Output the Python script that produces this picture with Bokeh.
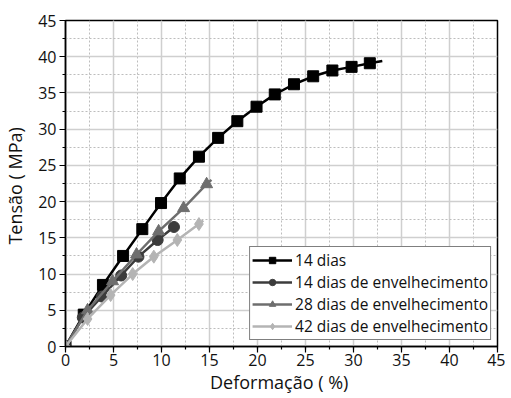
from bokeh.plotting import figure
from bokeh.models import (Range1d, SingleIntervalTicker, Legend, LegendItem)
from bokeh.embed import file_html
from bokeh.resources import INLINE

# Data (the last point of each series is the line end, without marker)
x_14 = [0, 1.9, 3.9, 6.0, 8.0, 9.95, 11.9, 13.9, 15.9, 17.9, 19.9, 21.8, 23.8, 25.8, 27.8, 29.8, 31.7, 33.0]
y_14 = [0, 4.4, 8.5, 12.5, 16.2, 19.8, 23.2, 26.2, 28.8, 31.1, 33.1, 34.8, 36.2, 37.3, 38.1, 38.6, 39.1, 39.4]

x_14e = [0, 1.8, 3.8, 5.8, 7.6, 9.6, 11.3, 11.6]
y_14e = [0, 4.0, 6.9, 9.8, 12.4, 14.7, 16.5, 16.7]

x_28e = [0, 2.3, 4.9, 7.4, 9.7, 12.3, 14.7, 15.2]
y_28e = [0, 5.0, 9.0, 12.7, 15.9, 19.1, 22.4, 23.0]

x_42e = [0, 2.3, 4.7, 7.0, 9.2, 11.65, 13.9, 14.35]
y_42e = [0, 3.8, 7.1, 10.0, 12.4, 14.7, 16.9, 17.4]

labels = ["14 dias", "14 dias de envelhecimento", "28 dias de envelhecimento", "42 dias de envelhecimento"]
colors = ["#000000", "#3c3c3c", "#6e6e6e", "#b4b4b4"]
markers = ["square", "circle", "triangle", "diamond"]
sizes = [11, 11, 12, 13]

FONT = "Open Sans"

p = figure(width=505, height=396, output_backend="svg", toolbar_location=None,
           x_range=Range1d(0, 45), y_range=Range1d(0, 45),
           min_border_left=63, min_border_right=8, min_border_top=20, min_border_bottom=44)

p.outline_line_color = "black"
p.outline_line_width = 1.5

for ax in (p.xaxis[0], p.yaxis[0]):
    ax.ticker = SingleIntervalTicker(interval=5, num_minor_ticks=2)
    ax.axis_line_color = "black"
    ax.axis_line_width = 1.5
    ax.major_tick_in = 0
    ax.major_tick_out = 6
    ax.minor_tick_in = 0
    ax.minor_tick_out = 3
    ax.major_tick_line_width = 1.2
    ax.minor_tick_line_width = 1.2
    ax.major_label_text_font = FONT
    ax.major_label_text_font_size = "16px"
    ax.major_label_text_color = "#111111"
    ax.axis_label_text_font = FONT
    ax.axis_label_text_font_size = "18px"
    ax.axis_label_text_font_style = "normal"
    ax.axis_label_text_color = "#111111"

p.xaxis.axis_label = "Deformação (  %)"
p.yaxis.axis_label = "Tensão (  MPa)"
p.xaxis.axis_label_standoff = 1
p.yaxis.axis_label_standoff = 8
p.xaxis.major_label_standoff = 1
p.yaxis.major_label_standoff = 3

for g in (p.xgrid[0], p.ygrid[0]):
    g.ticker = SingleIntervalTicker(interval=5, num_minor_ticks=2)
    g.grid_line_color = "#cfcfcf"
    g.grid_line_width = 1.5
    g.minor_grid_line_color = "#bdbdbd"
    g.minor_grid_line_width = 1
    g.minor_grid_line_dash = "2 2"

items = []
for (xs, ys), lab, col, mk, sz in zip([(x_14, y_14), (x_14e, y_14e), (x_28e, y_28e), (x_42e, y_42e)],
                                     labels, colors, markers, sizes):
    ln = p.line(xs, ys, line_color=col, line_width=2.5)
    sc = p.scatter(xs[:-1], ys[:-1], marker=mk, size=sz, fill_color=col, line_color=col)
    items.append(LegendItem(label=lab, renderers=[ln, sc]))

legend = Legend(items=items, location="bottom_right",
                label_text_font=FONT, label_text_font_size="15.5px", label_text_color="#111111",
                label_text_line_height=0.9,
                border_line_color="black", border_line_width=1.2,
                background_fill_color="white", background_fill_alpha=1,
                glyph_width=40, glyph_height=16, label_standoff=3,
                spacing=0, padding=2, margin=6, label_height=16)
p.add_layout(legend, "center")

open("out.html", "w").write(file_html(p, INLINE))
